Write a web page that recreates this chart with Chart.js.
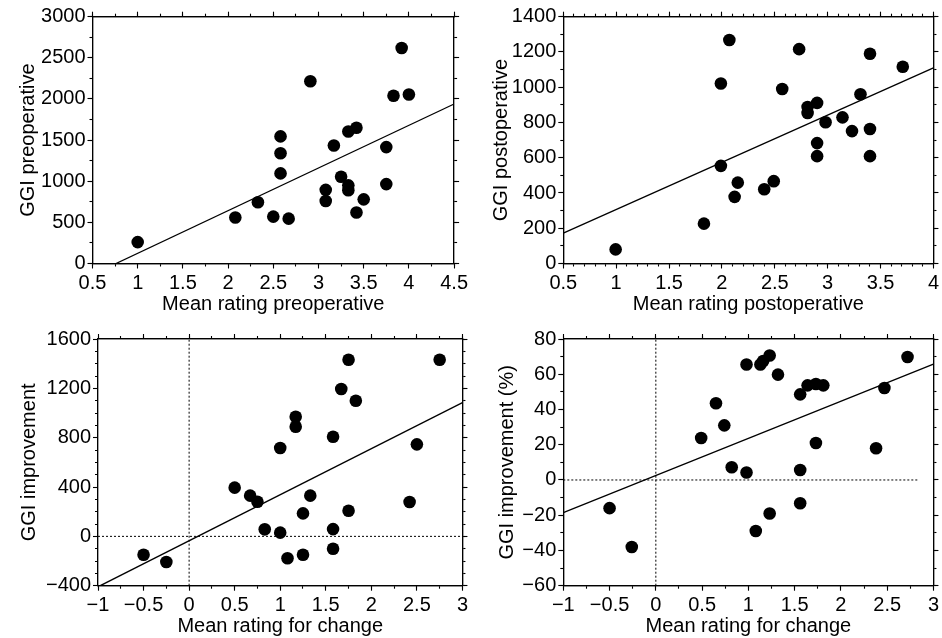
<!DOCTYPE html>
<html lang="en">
<head>
<meta charset="UTF-8">
<title>GGI vs mean rating</title>
<script src="https://cdn.jsdelivr.net/npm/chart.js"></script>
<style>
  html, body { margin: 0; padding: 0; background: #fff; overflow: hidden; width: 942px; height: 638px; }
  .panel { position: absolute; }
</style>
</head>
<body>
<div class="panel" style="left:0;top:0"><canvas id="chartPre" width="471" height="320"></canvas></div>
<div class="panel" style="left:471px;top:0"><canvas id="chartPost" width="471" height="320"></canvas></div>
<div class="panel" style="left:0;top:320px"><canvas id="chartChange" width="471" height="330"></canvas></div>
<div class="panel" style="left:471px;top:320px"><canvas id="chartPct" width="471" height="330"></canvas></div>

<script>
// --- data ---
const preRating = [1.0, 2.08, 2.33, 2.5, 2.67, 2.58, 2.58, 2.58, 2.91, 3.08, 3.08, 3.17, 3.25, 3.33, 3.42, 3.33, 3.33, 3.42, 3.5, 3.75, 3.75, 3.83, 3.92, 4.0]
const preGGI = [260, 560, 745, 570, 545, 1545, 1340, 1095, 2215, 895, 760, 1435, 1055, 1605, 1650, 950, 890, 620, 780, 1415, 965, 2040, 2620, 2055]

const postRating = [0.995, 1.83, 1.99, 1.99, 2.07, 2.12, 2.15, 2.40, 2.49, 2.57, 2.73, 2.81, 2.81, 2.90, 2.90, 2.90, 2.98, 3.14, 3.23, 3.31, 3.40, 3.40, 3.40, 3.71]
const postGGI = [80, 226, 1021, 554, 1268, 378, 459, 421, 467, 990, 1216, 888, 854, 911, 683, 609, 801, 829, 751, 960, 1190, 763, 609, 1116]

const changeRating = [-0.5, -0.25, 0.5, 0.67, 0.75, 0.83, 1.0, 1.0, 1.08, 1.17, 1.17, 1.25, 1.25, 1.33, 1.58, 1.58, 1.58, 1.67, 1.75, 1.75, 1.83, 2.42, 2.5, 2.75]
const changeGGI = [-149, -208, 395, 330, 281, 57, 716, 30, -178, 970, 889, 186, -149, 330, 808, 59, -100, 1195, 1432, 208, 1100, 278, 746, 1432]

const pctRating = [-0.5, -0.26, 0.49, 0.65, 0.74, 0.82, 0.98, 0.98, 1.08, 1.13, 1.16, 1.23, 1.23, 1.32, 1.56, 1.56, 1.56, 1.64, 1.73, 1.73, 1.81, 2.38, 2.47, 2.72]
const pctGGI = [-16, -38, 23.8, 43.5, 31, 7.2, 65.5, 4.2, -29, 65.5, 67.5, 70.6, -19, 59.8, 48.6, 5.7, -13.2, 53.7, 54.5, 21, 53.7, 18, 52.2, 69.8]

// regression lines (end points)
const fitPreX = [0.76, 4.5], fitPreY = [0, 1939]
const fitPostX = [0.5, 4.0], fitPostY = [172, 1110]
const fitChangeX = [-0.975, 3.0], fitChangeY = [-400, 1084]
const fitPctX = [-1, 3], fitPctY = [-18.5, 65.8]

// dotted zero lines
const zeroChangeV = { x: [0, 0], y: [-400, 1600] }
const zeroChangeH = { x: [-1, 3], y: [0, 0] }
const zeroPctV = { x: [0, 0], y: [-60, 80] }
const zeroPctH = { x: [-1, 2.83], y: [0, 0] }

const FONT = { family: "'Liberation Sans', Arial, Helvetica, sans-serif", size: 20 }

const fmt = v => {
    const r = Math.round(v * 1000) / 1000
    return (r < 0 ? '\u2212' : '') + Math.abs(r)
}

const pts = (xs, ys) => xs.map((x, i) => ({ x: x, y: ys[i] }))

// one axis: major = labelled ticks + frame line, minor = short ticks only
const axis = (pos, min, max, step, size, opts) => {
    const major = opts.major
    return {
        type: 'linear',
        position: pos,
        min: min,
        max: max,
        weight: major ? 1 : 0,
        afterFit: s => { if (s.isHorizontal()) s.height = size; else s.width = size },
        border: { display: major, color: '#000', width: 1.2 },
        grid: {
            drawOnChartArea: false,
            drawTicks: true,
            tickLength: major ? 5 : 3,
            tickColor: '#000',
            tickWidth: 1.1
        },
        ticks: {
            display: !!opts.labels,
            stepSize: step,
            autoSkip: false,
            maxRotation: 0,
            minRotation: 0,
            maxTicksLimit: 1000,
            padding: opts.tickPad || 3,
            color: '#000',
            font: FONT,
            callback: fmt
        },
        title: {
            display: !!opts.title,
            text: opts.title || '',
            color: '#000',
            font: FONT,
            padding: opts.titlePad || 0
        }
    }
}

const makePanel = (id, c) => {
    const scales = {
        x: axis('bottom', c.xr[0], c.xr[1], c.xr[2], c.box[3], { major: true, labels: true, tickPad: 3, title: c.xTitle, titlePad: { top: 0, bottom: c.xTitlePad } }),
        xm: axis('bottom', c.xr[0], c.xr[1], c.xr[3], 0, {}),
        y: axis('left', c.yr[0], c.yr[1], c.yr[2], c.box[0], { major: true, labels: true, tickPad: 2, title: c.yTitle, titlePad: { top: c.yTitlePad, bottom: 0 } }),
        ym: axis('left', c.yr[0], c.yr[1], c.yr[3], 0, {}),
        x2: axis('top', c.xr[0], c.xr[1], c.xr[2], c.box[2], { major: true }),
        x2m: axis('top', c.xr[0], c.xr[1], c.xr[3], 0, {}),
        y2: axis('right', c.yr[0], c.yr[1], c.yr[2], c.box[1], { major: true }),
        y2m: axis('right', c.yr[0], c.yr[1], c.yr[3], 0, {})
    }

    const datasets = [
        {
            data: pts(c.xs, c.ys),
            backgroundColor: '#000',
            borderWidth: 0,
            pointRadius: 6.3,
            pointHoverRadius: 6.3
        },
        {
            data: pts(c.fitX, c.fitY),
            showLine: true,
            borderColor: '#000',
            borderWidth: 1.3,
            pointRadius: 0
        }
    ]
    ;(c.zero || []).forEach(z => {
        datasets.push({
            data: pts(z.x, z.y),
            showLine: true,
            borderColor: '#000',
            borderWidth: 1,
            borderDash: [2, 2],
            pointRadius: 0
        })
    })

    return new Chart(document.getElementById(id), {
        type: 'scatter',
        data: { datasets: datasets },
        options: {
            responsive: false,
            animation: false,
            events: [],
            layout: { padding: 0 },
            plugins: { legend: { display: false }, tooltip: { enabled: false } },
            scales: scales
        }
    })
}

// box = [left, right, top, bottom] axis sizes in px
makePanel('chartPre', {
    xs: preRating, ys: preGGI, fitX: fitPreX, fitY: fitPreY,
    xr: [0.5, 4.5, 0.5, 0.25], yr: [0, 3000, 500, 250],
    box: [92.5, 8.3, 16.7, 56.5],
    xTitle: 'Mean rating preoperative', xTitlePad: 4,
    yTitle: 'GGI preoperative', yTitlePad: 16
})

makePanel('chartPost', {
    xs: postRating, ys: postGGI, fitX: fitPostX, fitY: fitPostY,
    xr: [0.5, 4, 0.5, 0.1], yr: [0, 1400, 200, 100],
    box: [92.3, 6, 16.7, 56.5],
    xTitle: 'Mean rating postoperative', xTitlePad: 4,
    yTitle: 'GGI postoperative', yTitlePad: 18
})

makePanel('chartChange', {
    xs: changeRating, ys: changeGGI, fitX: fitChangeX, fitY: fitChangeY,
    zero: [zeroChangeV, zeroChangeH],
    xr: [-1, 3, 0.5, 0.25], yr: [-400, 1600, 400, 100],
    box: [98, 5, 19, 64.3],
    xTitle: 'Mean rating for change', xTitlePad: 12,
    yTitle: 'GGI improvement', yTitlePad: 17
})

makePanel('chartPct', {
    xs: pctRating, ys: pctGGI, fitX: fitPctX, fitY: fitPctY,
    zero: [zeroPctV, zeroPctH],
    xr: [-1, 3, 0.5, 0.25], yr: [-60, 80, 20, 10],
    box: [92.3, 6, 19, 64.3],
    xTitle: 'Mean rating for change', xTitlePad: 12,
    yTitle: 'GGI improvement (%)', yTitlePad: 24
})
</script>
</body>
</html>
